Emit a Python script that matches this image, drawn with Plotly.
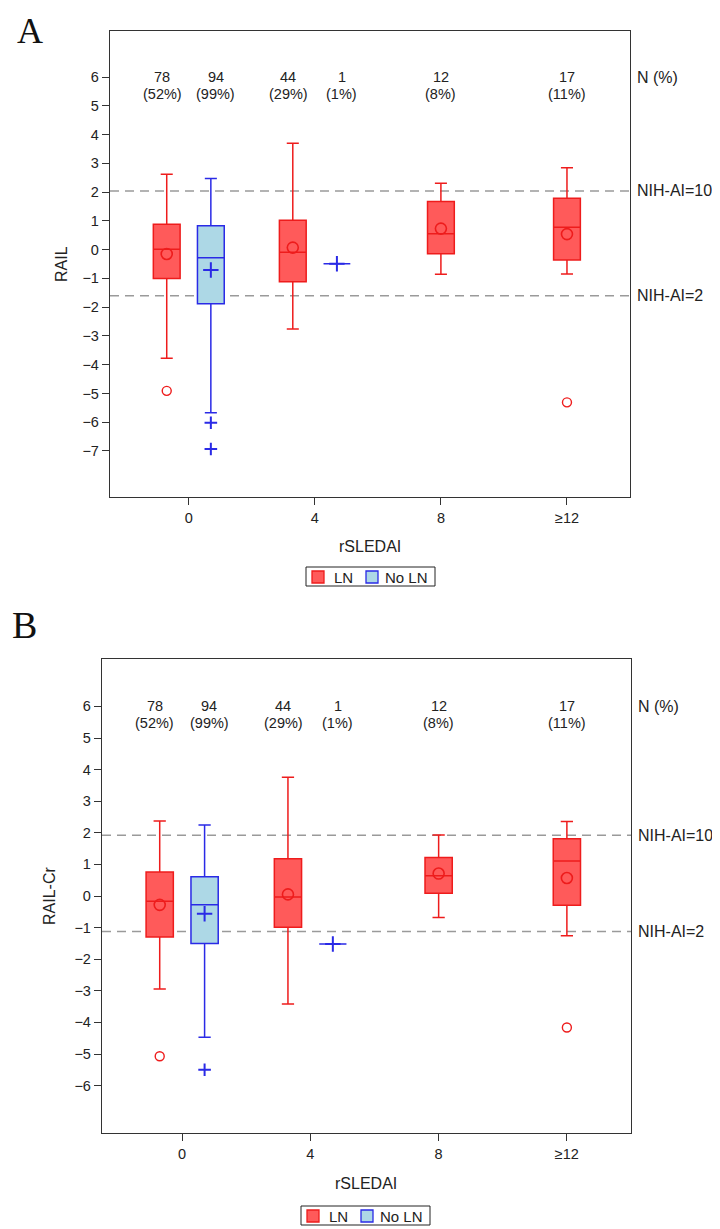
import plotly.graph_objects as go

# ---------------- data ----------------
categories = ["0", "4", "8", "≥12"]
cat_values = [0, 4, 8, 12]
groups = ["LN", "No LN"]

# Panel A (RAIL) -- LN present in all categories, No LN only in "0" and "4"
A_LN_low = [-3.78, -2.76, -0.86, -0.85]
A_LN_q1 = [-1.00, -1.12, -0.14, -0.36]
A_LN_med = [0.01, -0.09, 0.55, 0.78]
A_LN_q3 = [0.88, 1.02, 1.67, 1.79]
A_LN_high = [2.62, 3.70, 2.31, 2.85]
A_LN_mean = [-0.15, 0.07, 0.73, 0.54]
A_LN_out = [[-4.91], [], [], [-5.31]]

A_NoLN_low = [-5.67, -0.49]
A_NoLN_q1 = [-1.88, -0.49]
A_NoLN_med = [-0.28, -0.49]
A_NoLN_q3 = [0.83, -0.49]
A_NoLN_high = [2.47, -0.49]
A_NoLN_mean = [-0.71, -0.49]
A_NoLN_out = [[-6.02, -6.93], []]

A_nih10 = 2.04
A_nih2 = -1.60

# Panel B (RAIL-Cr)
B_LN_low = [-2.94, -3.42, -0.68, -1.26]
B_LN_q1 = [-1.30, -0.99, 0.09, -0.29]
B_LN_med = [-0.17, -0.03, 0.64, 1.11]
B_LN_q3 = [0.76, 1.18, 1.22, 1.81]
B_LN_high = [2.37, 3.76, 1.93, 2.36]
B_LN_mean = [-0.28, 0.05, 0.71, 0.57]
B_LN_out = [[-5.07], [], [], [-4.16]]

B_NoLN_low = [-4.47, -1.52]
B_NoLN_q1 = [-1.50, -1.52]
B_NoLN_med = [-0.28, -1.52]
B_NoLN_q3 = [0.61, -1.52]
B_NoLN_high = [2.25, -1.52]
B_NoLN_mean = [-0.56, -1.52]
B_NoLN_out = [[-5.50], []]

B_nih10 = 1.92
B_nih2 = -1.12

LN_n = [78, 44, 12, 17]
LN_pct = [52, 29, 8, 11]
NoLN_n = [94, 1]
NoLN_pct = [99, 1]

# ---------------- styles ----------------
FONT = "Liberation Sans"
TXT = "#222222"
LN_FILL = "#FF5A5A"
LN_LINE = "#EE1C1C"
NO_FILL = "#ADD8E6"
NO_LINE = "#2A2AE6"
BOX_OFF = 0.70
LBL_OFF = 0.85
BOX_W = 0.85

# page body has an 8px default margin; size the figure so it fits the 720x1229 window
OFF = 8
W, H = 720 - OFF, 1229 - OFF


def px_x(p):
    return (p - OFF) / W


def px_y(p):
    return 1 - (p - OFF) / H


def paper_text(x, y, text, size, family=FONT, color=TXT, xanchor="center", angle=0):
    fig.add_annotation(xref="paper", yref="paper", x=px_x(x), y=px_y(y), text=text,
                       showarrow=False, xanchor=xanchor, yanchor="middle", textangle=angle,
                       font=dict(family=family, size=size, color=color))


fig = go.Figure()

panels = [
    dict(xa="x", ya="y",
         LN=(A_LN_low, A_LN_q1, A_LN_med, A_LN_q3, A_LN_high, A_LN_mean, A_LN_out),
         NO=(A_NoLN_low, A_NoLN_q1, A_NoLN_med, A_NoLN_q3, A_NoLN_high, A_NoLN_mean, A_NoLN_out),
         nih=(A_nih10, A_nih2), leg=(306, 567)),
    dict(xa="x2", ya="y2",
         LN=(B_LN_low, B_LN_q1, B_LN_med, B_LN_q3, B_LN_high, B_LN_mean, B_LN_out),
         NO=(B_NoLN_low, B_NoLN_q1, B_NoLN_med, B_NoLN_q3, B_NoLN_high, B_NoLN_mean, B_NoLN_out),
         nih=(B_nih10, B_nih2), leg=(301, 1206)),
]

n_no = len(NoLN_n)
ln_x = [c - BOX_OFF if i < n_no else c for i, c in enumerate(cat_values)]
no_x = [cat_values[i] + BOX_OFF for i in range(n_no)]

for p in panels:
    low, q1, med, q3, high, mean, out = p["LN"]
    fig.add_trace(go.Box(
        name=groups[0], x=ln_x, q1=q1, median=med, q3=q3, lowerfence=low, upperfence=high,
        width=BOX_W, whiskerwidth=0.45, fillcolor=LN_FILL,
        line=dict(color=LN_LINE, width=1.5), boxpoints=False, showlegend=False,
        xaxis=p["xa"], yaxis=p["ya"]))
    nlow, nq1, nmed, nq3, nhigh, nmean, nout = p["NO"]
    fig.add_trace(go.Box(
        name=groups[1], x=no_x, q1=nq1, median=nmed, q3=nq3, lowerfence=nlow, upperfence=nhigh,
        width=BOX_W, whiskerwidth=0.45, fillcolor=NO_FILL,
        line=dict(color=NO_LINE, width=1.5), boxpoints=False, showlegend=False,
        xaxis=p["xa"], yaxis=p["ya"]))

for p in panels:
    low, q1, med, q3, high, mean, out = p["LN"]
    nlow, nq1, nmed, nq3, nhigh, nmean, nout = p["NO"]
    # means
    fig.add_trace(go.Scatter(x=ln_x, y=mean, mode="markers", showlegend=False,
                             marker=dict(symbol="circle-open", size=11, color=LN_LINE,
                                         line=dict(width=1.6)),
                             xaxis=p["xa"], yaxis=p["ya"]))
    fig.add_trace(go.Scatter(x=no_x, y=nmean, mode="markers", showlegend=False,
                             marker=dict(symbol="cross-thin", size=11, color=NO_LINE,
                                         line=dict(width=2, color=NO_LINE)),
                             xaxis=p["xa"], yaxis=p["ya"]))
    # outliers
    ox, oy = [], []
    for xv, vals in zip(ln_x, out):
        for v in vals:
            ox.append(xv)
            oy.append(v)
    fig.add_trace(go.Scatter(x=ox, y=oy, mode="markers", showlegend=False,
                             marker=dict(symbol="circle-open", size=9, color=LN_LINE,
                                         line=dict(width=1.4)),
                             xaxis=p["xa"], yaxis=p["ya"]))
    ox, oy = [], []
    for xv, vals in zip(no_x, nout):
        for v in vals:
            ox.append(xv)
            oy.append(v)
    fig.add_trace(go.Scatter(x=ox, y=oy, mode="markers", showlegend=False,
                             marker=dict(symbol="cross-thin", size=9, color=NO_LINE,
                                         line=dict(width=2, color=NO_LINE)),
                             xaxis=p["xa"], yaxis=p["ya"]))

    # reference lines and labels
    for val, lab in zip(p["nih"], ["NIH-AI=10", "NIH-AI=2"]):
        fig.add_shape(type="line", xref=p["xa"] + " domain", yref=p["ya"],
                      x0=0, x1=1, y0=val, y1=val,
                      line=dict(color="#9A9A9A", width=1.5, dash="9px,6px"), layer="below")
        fig.add_annotation(xref=p["xa"] + " domain", yref=p["ya"], x=1, y=val,
                           text=lab, showarrow=False, xanchor="left", yanchor="middle",
                           xshift=5, font=dict(family=FONT, size=16, color=TXT))
    fig.add_annotation(xref=p["xa"] + " domain", yref=p["ya"], x=1, y=6,
                       text="N (%)", showarrow=False, xanchor="left", yanchor="middle",
                       xshift=5, font=dict(family=FONT, size=16, color=TXT))

    # N (%) counts
    for i, c in enumerate(cat_values):
        lx = c - LBL_OFF if i < n_no else c
        fig.add_annotation(xref=p["xa"], yref=p["ya"], x=lx, y=6, text=str(LN_n[i]),
                           showarrow=False, xanchor="center", yanchor="middle",
                           font=dict(family=FONT, size=14.5, color=TXT))
        fig.add_annotation(xref=p["xa"], yref=p["ya"], x=lx, y=6, yshift=-17,
                           text="(%d%%)" % LN_pct[i], xanchor="center", yanchor="middle",
                           showarrow=False, font=dict(family=FONT, size=14.5, color=TXT))
    for i in range(n_no):
        lx = cat_values[i] + LBL_OFF
        fig.add_annotation(xref=p["xa"], yref=p["ya"], x=lx, y=6, text=str(NoLN_n[i]),
                           showarrow=False, xanchor="center", yanchor="middle",
                           font=dict(family=FONT, size=14.5, color=TXT))
        fig.add_annotation(xref=p["xa"], yref=p["ya"], x=lx, y=6, yshift=-17,
                           text="(%d%%)" % NoLN_pct[i], xanchor="center", yanchor="middle",
                           showarrow=False, font=dict(family=FONT, size=14.5, color=TXT))

    # legend (drawn box with two keys)
    lx0, ly0 = p["leg"]
    fig.add_shape(type="rect", xref="paper", yref="paper",
                  x0=px_x(lx0), x1=px_x(lx0 + 129), y0=px_y(ly0 + 19), y1=px_y(ly0),
                  line=dict(color="#222222", width=1), fillcolor="white")
    keys = [(6, 26, LN_FILL, LN_LINE, groups[0]), (60, 77, NO_FILL, NO_LINE, groups[1])]
    for sx, tx, fc, lc, lab in keys:
        fig.add_shape(type="rect", xref="paper", yref="paper",
                      x0=px_x(lx0 + sx), x1=px_x(lx0 + sx + 12),
                      y0=px_y(ly0 + 16), y1=px_y(ly0 + 4),
                      line=dict(color=lc, width=1.3), fillcolor=fc)
        paper_text(lx0 + tx, ly0 + 10, lab, 15, xanchor="left")

axis_common = dict(showline=True, mirror=True, linecolor="#333333", linewidth=1.3,
                   ticks="outside", ticklen=7, tickcolor="#333333", tickwidth=1.2,
                   showgrid=False, zeroline=False,
                   tickfont=dict(family=FONT, size=14.5, color=TXT))

A_dom_x = [px_x(110), px_x(630)]
A_dom_y = [px_y(497), px_y(31)]
B_dom_x = [px_x(102), px_x(631)]
B_dom_y = [px_y(1133), px_y(659)]

fig.update_layout(
    width=W, height=H, margin=dict(l=0, r=0, t=0, b=0),
    paper_bgcolor="white", plot_bgcolor="white",
    boxmode="overlay", showlegend=False,
    xaxis=dict(domain=A_dom_x, anchor="y", range=[-2.5, 14], tickvals=cat_values,
               ticktext=categories, **axis_common),
    yaxis=dict(domain=A_dom_y, anchor="x", range=[-8.6, 7.6],
               tickvals=list(range(-7, 7)), **axis_common),
    xaxis2=dict(domain=B_dom_x, anchor="y2", range=[-2.5, 14], tickvals=cat_values,
                ticktext=categories, **axis_common),
    yaxis2=dict(domain=B_dom_y, anchor="x2", range=[-7.5, 7.5],
                tickvals=list(range(-6, 7)), **axis_common),
)

# axis titles and panel letters
paper_text(370, 546, "rSLEDAI", 16)
paper_text(366, 1183, "rSLEDAI", 16)
paper_text(62, 264, "RAIL", 16, angle=-90)
paper_text(49, 896, "RAIL-Cr", 16, angle=-90)
paper_text(30, 31, "A", 36, family="Liberation Serif", color="#111111")
paper_text(24, 625, "B", 38, family="Liberation Serif", color="#111111")

fig.write_html("out.html")
